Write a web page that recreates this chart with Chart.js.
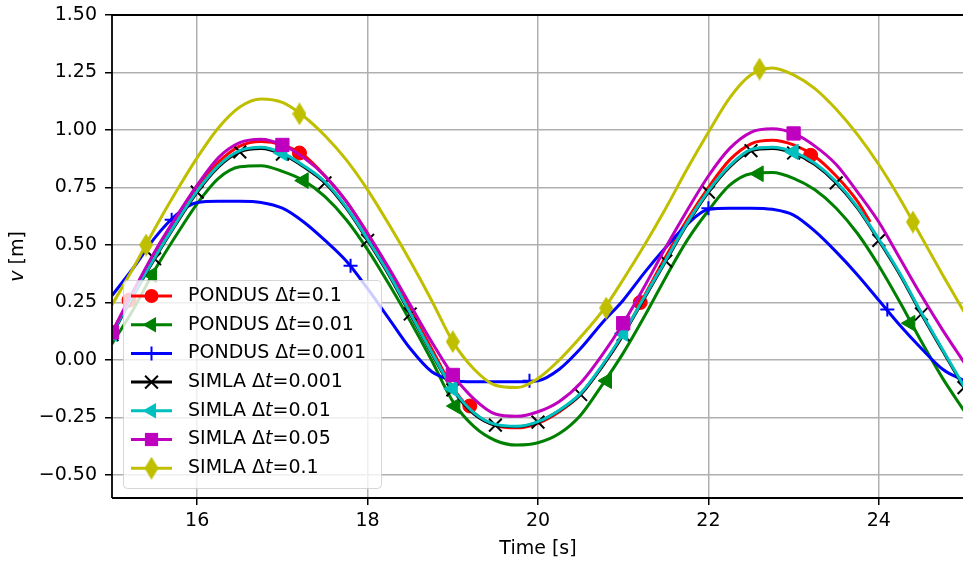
<!DOCTYPE html>
<html>
<head>
<meta charset="utf-8">
<script src="https://cdn.jsdelivr.net/npm/chart.js@4.4.0/dist/chart.umd.min.js"></script>
<style>
html, body { margin: 0; padding: 0; overflow: hidden; background: #fff; }
#wrap { width: 975px; height: 565px; }
</style>
</head>
<body>
<div id="wrap"><canvas id="chart"></canvas></div>
<script>
// time grid [s]
const times = [15, 15.25, 15.5, 15.75, 16, 16.25, 16.5, 16.75, 17, 17.25, 17.5, 17.75, 18, 18.25, 18.5, 18.75,
  19, 19.25, 19.5, 19.75, 20, 20.25, 20.5, 20.75, 21, 21.25, 21.5, 21.75, 22, 22.25, 22.5, 22.75,
  23, 23.25, 23.5, 23.75, 24, 24.25, 24.5, 24.75, 25];
const timesPondus01 = [15, 15.25, 15.5, 15.75, 16, 16.25, 16.5, 16.75, 17, 17.25, 17.5, 17.75, 18, 18.25, 18.5, 18.75,
  19, 19.25, 19.5, 19.75, 20, 20.25, 20.5, 20.75, 21, 21.25, 21.5, 21.75, 22, 22.25, 22.5, 22.75,
  23, 23.25, 23.5, 23.75, 23.9];

// v [m]
const pondus01 = [0.12, 0.29, 0.46, 0.61, 0.75, 0.86, 0.93, 0.95, 0.935, 0.89, 0.80, 0.69, 0.55, 0.39, 0.22, 0.05,
  -0.12, -0.23, -0.285, -0.295, -0.275, -0.225, -0.15, -0.03, 0.11, 0.28, 0.45, 0.61, 0.75, 0.87, 0.94, 0.955,
  0.935, 0.885, 0.80, 0.69, 0.60];
const pondus001 = [0.07, 0.22, 0.39, 0.54, 0.68, 0.79, 0.84, 0.845, 0.82, 0.78, 0.71, 0.61, 0.48, 0.33, 0.17, 0.00,
  -0.18, -0.29, -0.35, -0.37, -0.36, -0.32, -0.24, -0.11, 0.03, 0.19, 0.36, 0.52, 0.65, 0.76, 0.81, 0.815,
  0.79, 0.74, 0.66, 0.55, 0.41, 0.25, 0.08, -0.08, -0.22];
const pondus0001 = [0.28, 0.40, 0.53, 0.63, 0.685, 0.69, 0.69, 0.685, 0.66, 0.60, 0.52, 0.43, 0.31, 0.18, 0.05, -0.05,
  -0.088, -0.095, -0.095, -0.095, -0.09, -0.04, 0.05, 0.16, 0.26, 0.38, 0.49, 0.59, 0.655, 0.66, 0.66, 0.655,
  0.63, 0.56, 0.47, 0.37, 0.26, 0.15, 0.05, -0.04, -0.09];
const simla0001 = [0.11, 0.28, 0.44, 0.59, 0.73, 0.84, 0.905, 0.92, 0.895, 0.84, 0.77, 0.66, 0.52, 0.37, 0.20, 0.03,
  -0.13, -0.235, -0.283, -0.29, -0.27, -0.22, -0.15, -0.03, 0.11, 0.27, 0.43, 0.59, 0.73, 0.84, 0.91, 0.92,
  0.90, 0.85, 0.77, 0.66, 0.52, 0.37, 0.20, 0.04, -0.12];
const simla001 = [0.115, 0.285, 0.445, 0.595, 0.735, 0.845, 0.91, 0.925, 0.90, 0.845, 0.775, 0.665, 0.525, 0.375, 0.205, 0.035,
  -0.125, -0.23, -0.28, -0.288, -0.268, -0.218, -0.145, -0.025, 0.115, 0.275, 0.435, 0.595, 0.735, 0.845, 0.915, 0.925,
  0.905, 0.855, 0.775, 0.665, 0.525, 0.375, 0.205, 0.045, -0.115];
const simla005 = [0.12, 0.30, 0.47, 0.62, 0.76, 0.88, 0.945, 0.96, 0.935, 0.88, 0.80, 0.69, 0.55, 0.40, 0.24, 0.08,
  -0.065, -0.17, -0.235, -0.245, -0.225, -0.18, -0.10, 0.02, 0.16, 0.32, 0.49, 0.65, 0.80, 0.92, 0.99, 1.005,
  0.985, 0.93, 0.85, 0.73, 0.60, 0.44, 0.28, 0.13, -0.01];
const simla01 = [0.24, 0.40, 0.57, 0.73, 0.88, 1.01, 1.10, 1.135, 1.12, 1.06, 0.975, 0.87, 0.74, 0.59, 0.43, 0.26,
  0.08, -0.04, -0.11, -0.12, -0.08, 0.00, 0.10, 0.21, 0.35, 0.50, 0.66, 0.83, 0.99, 1.14, 1.24, 1.27,
  1.24, 1.18, 1.09, 0.98, 0.85, 0.70, 0.535, 0.37, 0.21];

// marker positions
const markT_pondus01 = [15.2, 17.2, 19.2, 21.2, 23.2];
const markV_pondus01 = [0.26, 0.90, -0.20, 0.25, 0.89];
const markT_pondus001 = [15.47, 17.25, 19.03, 20.81, 22.59, 24.37];
const markV_pondus001 = [0.37, 0.78, -0.20, -0.09, 0.81, 0.16];
const markT_pondus0001 = [15.7, 17.8, 19.9, 22.0, 24.1];
const markV_pondus0001 = [0.61, 0.41, -0.09, 0.66, 0.22];
const markT_simla0001 = [15, 15.5, 16, 16.5, 17, 17.5, 18, 18.5, 19, 19.5, 20, 20.5, 21, 21.5, 22, 22.5, 23, 23.5, 24, 24.5, 25];
const markV_simla0001 = [0.11, 0.44, 0.73, 0.905, 0.895, 0.77, 0.52, 0.20, -0.13, -0.283, -0.27, -0.15, 0.11, 0.43, 0.73, 0.91, 0.90, 0.77, 0.52, 0.20, -0.12];
const markT_simla001 = [15, 17, 19, 21, 23];
const markV_simla001 = [0.115, 0.90, -0.125, 0.115, 0.905];
const markT_simla005 = [15, 17, 19, 21, 23];
const markV_simla005 = [0.12, 0.935, -0.065, 0.16, 0.985];
const markT_simla01 = [15.4, 17.2, 19.0, 20.8, 22.6, 24.4];
const markV_simla01 = [0.50, 1.07, 0.08, 0.226, 1.265, 0.60];

const xTicks = [16, 18, 20, 22, 24];
const yTicks = [-0.5, -0.25, 0, 0.25, 0.5, 0.75, 1.0, 1.25, 1.5];

const legendNames = ['PONDUS', 'PONDUS', 'PONDUS', 'SIMLA', 'SIMLA', 'SIMLA', 'SIMLA'];
const legendSteps = ['0.1', '0.01', '0.001', '0.001', '0.01', '0.05', '0.1'];

const FONT = '"DejaVu Sans"';
const FS = 19;
const LW = 3;

// thin diamond marker (matplotlib 'd')
const diamond = document.createElement('canvas');
diamond.width = 14; diamond.height = 23;
(function () {
  const d = diamond.getContext('2d');
  d.fillStyle = '#bfbf00';
  d.beginPath();
  d.moveTo(7, 0); d.lineTo(14, 11.5); d.lineTo(7, 23); d.lineTo(0, 11.5);
  d.closePath(); d.fill();
})();

const series = [
  { t: timesPondus01, v: pondus01, mt: markT_pondus01, mv: markV_pondus01, color: '#ff0000', marker: 'circle' },
  { t: times, v: pondus001, mt: markT_pondus001, mv: markV_pondus001, color: '#008000', marker: 'tri' },
  { t: times, v: pondus0001, mt: markT_pondus0001, mv: markV_pondus0001, color: '#0000ff', marker: 'plus' },
  { t: times, v: simla0001, mt: markT_simla0001, mv: markV_simla0001, color: '#000000', marker: 'x' },
  { t: times, v: simla001, mt: markT_simla001, mv: markV_simla001, color: '#00bfbf', marker: 'tri' },
  { t: times, v: simla005, mt: markT_simla005, mv: markV_simla005, color: '#bf00bf', marker: 'square' },
  { t: times, v: simla01, mt: markT_simla01, mv: markV_simla01, color: '#bfbf00', marker: 'diamond' }
];

const markerCfg = {
  circle: { pointStyle: 'circle', pointRadius: 7, pointBorderWidth: 1, pointRotation: 0 },
  tri: { pointStyle: 'triangle', pointRadius: 9, pointBorderWidth: 1, pointRotation: -90 },
  plus: { pointStyle: 'cross', pointRadius: 7, pointBorderWidth: 2, pointRotation: 0 },
  x: { pointStyle: 'crossRot', pointRadius: 9, pointBorderWidth: 2, pointRotation: 0 },
  square: { pointStyle: 'rect', pointRadius: 9.4, pointBorderWidth: 1, pointRotation: 0 },
  diamond: { pointStyle: diamond, pointRadius: 10, pointBorderWidth: 0, pointRotation: 0 }
};

const datasets = [];
series.forEach((s, i) => {
  datasets.push({
    data: s.t.map((x, k) => ({ x: x, y: s.v[k] })),
    borderColor: s.color,
    borderWidth: LW,
    pointRadius: 0,
    fill: false,
    cubicInterpolationMode: 'monotone',
    clip: 0,
    order: 100 - 2 * i
  });
  datasets.push(Object.assign({
    data: s.mt.map((x, k) => ({ x: x, y: s.mv[k] })),
    showLine: false,
    pointBackgroundColor: s.color,
    pointBorderColor: s.color,
    clip: 0,
    order: 99 - 2 * i
  }, markerCfg[s.marker]));
});

function drawMarker(ctx, kind, x, y, color) {
  ctx.save();
  ctx.fillStyle = color; ctx.strokeStyle = color; ctx.lineWidth = 2;
  ctx.beginPath();
  if (kind === 'circle') {
    ctx.arc(x, y, 7, 0, Math.PI * 2); ctx.fill();
  } else if (kind === 'tri') {
    const r = 9;
    for (let k = 0; k < 3; k++) {
      const a = -Math.PI / 2 + k * 2 * Math.PI / 3;
      const px = x + Math.sin(a) * r, py = y - Math.cos(a) * r;
      if (k === 0) ctx.moveTo(px, py); else ctx.lineTo(px, py);
    }
    ctx.closePath(); ctx.fill();
  } else if (kind === 'plus') {
    ctx.moveTo(x - 7, y); ctx.lineTo(x + 7, y); ctx.moveTo(x, y - 7); ctx.lineTo(x, y + 7); ctx.stroke();
  } else if (kind === 'x') {
    ctx.moveTo(x - 6.4, y - 6.4); ctx.lineTo(x + 6.4, y + 6.4); ctx.moveTo(x - 6.4, y + 6.4); ctx.lineTo(x + 6.4, y - 6.4); ctx.stroke();
  } else if (kind === 'square') {
    ctx.fillRect(x - 6.6, y - 6.6, 13.2, 13.2);
  } else if (kind === 'diamond') {
    ctx.drawImage(diamond, x - 7, y - 11.5);
  }
  ctx.restore();
}

const decor = {
  id: 'decor',
  afterDatasetsDraw(chart) {
    const { ctx, chartArea: a } = chart;
    ctx.save();
    ctx.strokeStyle = '#000';
    ctx.lineWidth = 1.8;
    ctx.beginPath();
    ctx.moveTo(a.left, a.bottom); ctx.lineTo(a.left, a.top); ctx.lineTo(a.right, a.top);
    ctx.moveTo(a.left, a.bottom); ctx.lineTo(a.right, a.bottom);
    ctx.stroke();
    ctx.restore();
  },
  afterDraw(chart) {
    const { ctx, chartArea: a } = chart;
    ctx.save();
    ctx.fillStyle = '#000';
    ctx.textBaseline = 'middle';

    // x title
    ctx.font = FS + 'px ' + FONT;
    ctx.textAlign = 'center';
    ctx.fillText('Time [s]', (a.left + a.right) / 2, 549);

    // y title with italic v
    ctx.save();
    ctx.translate(18, (a.top + a.bottom) / 2);
    ctx.rotate(-Math.PI / 2);
    ctx.textAlign = 'left';
    ctx.font = 'italic ' + FS + 'px ' + FONT;
    const wv = ctx.measureText('v').width;
    ctx.font = FS + 'px ' + FONT;
    const wr = ctx.measureText(' [m]').width;
    let x0 = -(wv + wr) / 2;
    ctx.font = 'italic ' + FS + 'px ' + FONT;
    ctx.fillText('v', x0, 0);
    ctx.font = FS + 'px ' + FONT;
    ctx.fillText(' [m]', x0 + wv, 0);
    ctx.restore();

    // legend box
    const bx = 123.5, by = 280.5, bw = 258, bh = 208, r = 4;
    ctx.beginPath();
    ctx.moveTo(bx + r, by);
    ctx.lineTo(bx + bw - r, by); ctx.arcTo(bx + bw, by, bx + bw, by + r, r);
    ctx.lineTo(bx + bw, by + bh - r); ctx.arcTo(bx + bw, by + bh, bx + bw - r, by + bh, r);
    ctx.lineTo(bx + r, by + bh); ctx.arcTo(bx, by + bh, bx, by + bh - r, r);
    ctx.lineTo(bx, by + r); ctx.arcTo(bx, by, bx + r, by, r);
    ctx.closePath();
    ctx.fillStyle = 'rgba(255,255,255,0.8)';
    ctx.fill();
    ctx.strokeStyle = 'rgba(204,204,204,0.8)';
    ctx.lineWidth = 1;
    ctx.stroke();

    series.forEach((s, i) => {
      const cy = 296 + i * 28.7;
      ctx.strokeStyle = s.color;
      ctx.lineWidth = LW;
      ctx.beginPath();
      ctx.moveTo(131, cy); ctx.lineTo(172, cy);
      ctx.stroke();
      drawMarker(ctx, s.marker, 151.5, cy, s.color);

      ctx.fillStyle = '#000';
      ctx.textAlign = 'left';
      let tx = 188;
      const p1 = legendNames[i] + ' \u0394';
      ctx.font = FS + 'px ' + FONT;
      ctx.fillText(p1, tx, cy);
      tx += ctx.measureText(p1).width;
      ctx.font = 'italic ' + FS + 'px ' + FONT;
      ctx.fillText('t', tx, cy);
      tx += ctx.measureText('t').width;
      ctx.font = FS + 'px ' + FONT;
      ctx.fillText('=' + legendSteps[i], tx, cy);
    });
    ctx.restore();
  }
};

new Chart(document.getElementById('chart').getContext('2d'), {
  type: 'line',
  data: { datasets: datasets },
  plugins: [decor],
  options: {
    responsive: true,
    maintainAspectRatio: false,
    animation: false,
    events: [],
    layout: { padding: { top: 15, right: 5, left: 0, bottom: 0 } },
    plugins: {
      legend: { display: false },
      tooltip: { enabled: false }
    },
    scales: {
      x: {
        type: 'linear',
        min: 15,
        max: 25,
        afterBuildTicks: (s) => { s.ticks = xTicks.map(v => ({ value: v })); },
        afterFit: (s) => { s.height = 67; s.paddingLeft = 0; s.paddingRight = 0; },
        border: { display: false },
        grid: { color: '#b0b0b0', lineWidth: 1.5, tickColor: '#000', tickLength: 7, tickWidth: 1.5 },
        ticks: {
          color: '#000',
          padding: 5,
          maxRotation: 0,
          font: { family: 'DejaVu Sans', size: FS },
          callback: (v) => String(v)
        }
      },
      y: {
        type: 'linear',
        min: -0.6,
        max: 1.5,
        afterBuildTicks: (s) => { s.ticks = yTicks.map(v => ({ value: v })); },
        afterFit: (s) => { s.width = 112; s.paddingTop = 0; s.paddingBottom = 0; },
        border: { display: false },
        grid: { color: '#b0b0b0', lineWidth: 1.5, tickColor: '#000', tickLength: 7, tickWidth: 1.5 },
        ticks: {
          color: '#000',
          padding: 8,
          font: { family: 'DejaVu Sans', size: FS },
          callback: (v) => v.toFixed(2).replace('-', '\u2212')
        }
      }
    }
  }
});
</script>
</body>
</html>
